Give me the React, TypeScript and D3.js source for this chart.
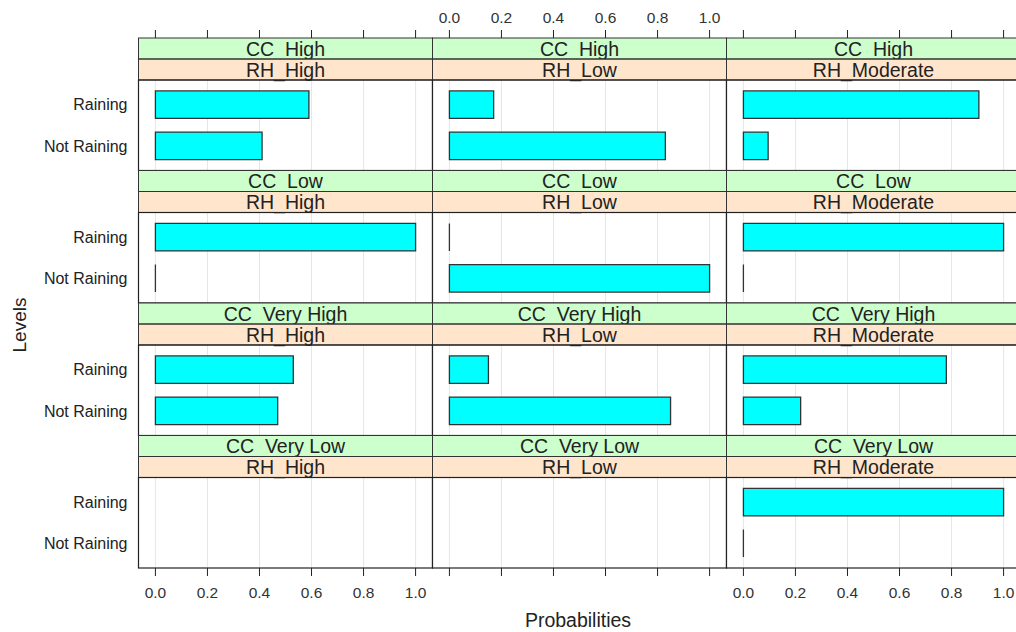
import { useMemo } from "react";
import * as d3 from "d3";

const ccLevels = ["CC_High", "CC_Low", "CC_Very High", "CC_Very Low"];
const rhLevels = ["RH_High", "RH_Low", "RH_Moderate"];
const outcomes = ["Raining", "Not Raining"];
// rows = CC level, cols = RH level; null = no data in that cell
const rainingProb = [
  [0.59, 0.17, 0.905],
  [1.0, 0.0, 1.0],
  [0.53, 0.15, 0.78],
  [null, null, 1.0],
];
const notRainingProb = [
  [0.41, 0.83, 0.095],
  [0.0, 1.0, 0.0],
  [0.47, 0.85, 0.22],
  [null, null, 0.0],
];
const tickValues = [0, 0.2, 0.4, 0.6, 0.8, 1.0];

const LEFT = 138.5;
const TOP = 38;
const COLW = 294;
const ROWH = 132.5;
const STRIPH = 21;
const FONT = "'Liberation Sans', Arial, sans-serif";

export default function App() {
  const width = 1016;
  const height = 632;

  const xScales = useMemo(
    () =>
      rhLevels.map((_, c) =>
        d3.scaleLinear().domain([-0.065, 1.065]).range([LEFT + c * COLW, LEFT + (c + 1) * COLW])
      ),
    []
  );

  const yScales = useMemo(
    () =>
      ccLevels.map((_, r) => {
        const top = TOP + r * ROWH + 2 * STRIPH;
        const bottom = TOP + (r + 1) * ROWH;
        return d3.scalePoint<string>().domain(outcomes).range([top, bottom]).padding(0.6);
      }),
    []
  );

  const barH = yScales[0].step() * (2 / 3);
  const bottomY = TOP + ccLevels.length * ROWH;

  const barPath = (x0: number, x1: number, yc: number) => {
    const p = d3.path();
    p.moveTo(x0, yc - barH / 2);
    p.lineTo(x1, yc - barH / 2);
    p.lineTo(x1, yc + barH / 2);
    p.lineTo(x0, yc + barH / 2);
    p.closePath();
    return p.toString();
  };

  return (
    <svg
      width={width}
      height={height}
      style={{ position: "absolute", left: 0, top: 0, background: "#fff" }}
      fontFamily={FONT}
    >
      {ccLevels.map((cc, r) =>
        rhLevels.map((rh, c) => {
          const x = xScales[c];
          const y = yScales[r];
          const x0 = LEFT + c * COLW;
          const rowTop = TOP + r * ROWH;
          const panelTop = rowTop + 2 * STRIPH;
          const panelBottom = rowTop + ROWH;
          const vals = [rainingProb[r][c], notRainingProb[r][c]];
          return (
            <g key={`${r}-${c}`}>
              <rect x={x0} y={panelTop} width={COLW} height={panelBottom - panelTop} fill="#fff" />
              {tickValues.map((t) => (
                <line
                  key={t}
                  x1={x(t)}
                  x2={x(t)}
                  y1={panelTop}
                  y2={panelBottom}
                  stroke="#e6e6e6"
                  strokeWidth={1}
                />
              ))}
              {outcomes.map((o, i) =>
                vals[i] === null ? null : (
                  <path
                    key={o}
                    d={barPath(x(0), x(vals[i] as number), y(o) as number)}
                    fill="#00ffff"
                    stroke="#333"
                    strokeWidth={1.3}
                  />
                )
              )}
              <rect x={x0} y={rowTop} width={COLW} height={STRIPH} fill="#ccffcc" />
              <text
                x={x0 + COLW / 2}
                y={rowTop + STRIPH - 3.5}
                textAnchor="middle"
                fontSize={19.5}
                fill="#222"
              >
                {cc}
              </text>
              <rect x={x0} y={rowTop + STRIPH} width={COLW} height={STRIPH} fill="#ffe5cc" />
              <text
                x={x0 + COLW / 2}
                y={rowTop + 2 * STRIPH - 3.5}
                textAnchor="middle"
                fontSize={19.5}
                fill="#222"
              >
                {rh}
              </text>
              <rect x={x0} y={rowTop} width={COLW} height={STRIPH} fill="none" stroke="#333" strokeWidth={1} />
              <rect
                x={x0}
                y={rowTop + STRIPH}
                width={COLW}
                height={STRIPH}
                fill="none"
                stroke="#333"
                strokeWidth={1}
              />
              <rect
                x={x0}
                y={panelTop}
                width={COLW}
                height={panelBottom - panelTop}
                fill="none"
                stroke="#222"
                strokeWidth={1.2}
              />
            </g>
          );
        })
      )}

      {/* y labels on left column */}
      {ccLevels.map((cc, r) =>
        outcomes.map((o) => (
          <text
            key={`${cc}-${o}`}
            x={LEFT - 11}
            y={yScales[r](o) as number}
            dy="0.36em"
            textAnchor="end"
            fontSize={16}
            fill="#222"
          >
            {o}
          </text>
        ))
      )}

      {/* top and bottom ticks */}
      {rhLevels.map((rh, c) => (
        <g key={rh}>
          {tickValues.map((t) => (
            <g key={t}>
              <line x1={xScales[c](t)} x2={xScales[c](t)} y1={TOP - 8} y2={TOP} stroke="#222" />
              <line x1={xScales[c](t)} x2={xScales[c](t)} y1={bottomY} y2={bottomY + 8} stroke="#222" />
              {c === 1 && (
                <text x={xScales[c](t)} y={23} textAnchor="middle" fontSize={15.5} fill="#333">
                  {d3.format(".1f")(t)}
                </text>
              )}
              {c !== 1 && (
                <text x={xScales[c](t)} y={598} textAnchor="middle" fontSize={15.5} fill="#333">
                  {d3.format(".1f")(t)}
                </text>
              )}
            </g>
          ))}
        </g>
      ))}

      <text x={578} y={627} textAnchor="middle" fontSize={19.5} fill="#222">
        Probabilities
      </text>
      <text
        transform="translate(26,325) rotate(-90)"
        textAnchor="middle"
        fontSize={19}
        fill="#222"
      >
        Levels
      </text>
    </svg>
  );
}
